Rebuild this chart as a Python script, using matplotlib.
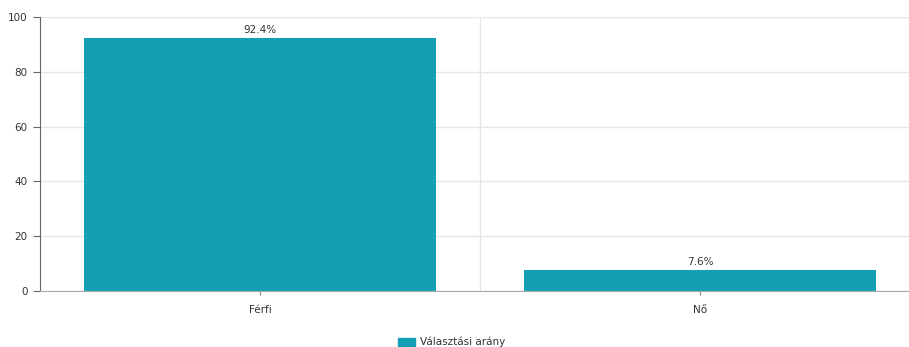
import matplotlib.pyplot as plt
from matplotlib.patches import Patch

categories = ["Férfi", "Nő"]
values = [92.4, 7.6]
labels = ["92.4%", "7.6%"]
series_name = "Választási arány"

bar_color = "#14a0b4"

fig = plt.figure(figsize=(9.09, 3.47), dpi=100)
# axes: left 40px, right 920px (beyond canvas), y0 at 291px, y100 at 17px
W, H = 909, 347
ax = fig.add_axes([40 / W, (H - 291) / H, 880 / W, (291 - 17) / H])

x = range(len(categories))
ax.bar(x, values, width=0.8, color=bar_color, edgecolor="none", zorder=3)
for i, v in enumerate(values):
    ax.text(i, v + 1.2, labels[i], ha="center", va="bottom", fontsize=7.5, color="#333333")

ax.set_xlim(-0.5, 1.5)
ax.set_ylim(0, 100)
ax.set_yticks([0, 20, 40, 60, 80, 100])
ax.set_xticks(list(x))
ax.set_xticklabels(categories)
ax.tick_params(axis="both", labelsize=7.5, colors="#333333")
ax.tick_params(axis="y", length=5, color="#666666", pad=4)
ax.tick_params(axis="x", length=3, color="#888888", pad=7)

ax.grid(axis="y", color="#e6e6e6", linewidth=1, zorder=0)
ax.axvline(0.5, color="#e6e6e6", linewidth=1, zorder=0)

for s in ["top", "right"]:
    ax.spines[s].set_visible(False)
ax.spines["left"].set_color("#666666")
ax.spines["bottom"].set_color("#aaaaaa")

leg = fig.legend(handles=[Patch(color=bar_color, label=series_name)], loc="center",
                 bbox_to_anchor=(452 / W, 1 - 342 / H), frameon=False, fontsize=7.5,
                 handlelength=1.6, handleheight=0.8, handletextpad=0.5)
for t in leg.get_texts():
    t.set_color("#333333")

fig.savefig("out.png", dpi=100)
